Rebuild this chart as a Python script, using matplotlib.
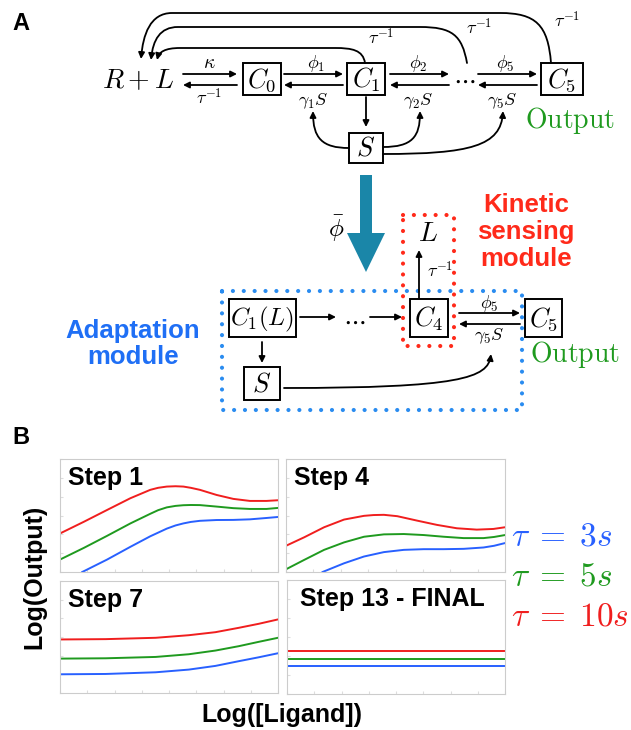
import numpy as np
import matplotlib.pyplot as plt
from matplotlib.patches import Rectangle, FancyArrowPatch, Polygon
from matplotlib.path import Path

plt.rcParams['mathtext.fontset'] = 'cm'
plt.rcParams['font.family'] = ['Liberation Sans', 'DejaVu Sans']

# ---- panel B data: x and y as fractions of each small box ----
step1_x_red = [0, 0.11, 0.216, 0.323, 0.414, 0.45, 0.49, 0.53, 0.566, 0.60, 0.642, 0.718, 0.795, 0.871, 0.947, 1]
step1_red = [0.341, 0.445, 0.549, 0.653, 0.727, 0.745, 0.756, 0.759, 0.756, 0.745, 0.727, 0.682, 0.647, 0.629, 0.629, 0.635]
step1_x_green = [0, 0.11, 0.216, 0.323, 0.414, 0.45, 0.49, 0.53, 0.566, 0.60, 0.642, 0.718, 0.795, 0.871, 0.947, 1]
step1_green = [0.11, 0.214, 0.32, 0.43, 0.515, 0.547, 0.572, 0.585, 0.591, 0.593, 0.592, 0.579, 0.565, 0.558, 0.558, 0.567]
step1_x_blue = [0.102, 0.216, 0.323, 0.414, 0.49, 0.53, 0.566, 0.60, 0.642, 0.718, 0.795, 0.871, 0.947, 1]
step1_blue = [0, 0.11, 0.223, 0.316, 0.384, 0.412, 0.43, 0.443, 0.453, 0.46, 0.461, 0.466, 0.478, 0.487]

step4_x_red = [0, 0.083, 0.174, 0.265, 0.356, 0.40, 0.447, 0.508, 0.598, 0.689, 0.78, 0.871, 0.947, 1]
step4_red = [0.232, 0.307, 0.396, 0.464, 0.497, 0.504, 0.506, 0.494, 0.455, 0.417, 0.387, 0.375, 0.381, 0.396]
step4_x_green = [0, 0.083, 0.174, 0.265, 0.356, 0.447, 0.538, 0.629, 0.72, 0.811, 0.902, 0.95, 1]
step4_green = [0.024, 0.107, 0.196, 0.262, 0.312, 0.333, 0.336, 0.327, 0.312, 0.3, 0.3, 0.31, 0.327]
step4_x_blue = [0.167, 0.265, 0.356, 0.447, 0.538, 0.629, 0.72, 0.811, 0.902, 0.95, 1]
step4_blue = [0, 0.077, 0.137, 0.176, 0.196, 0.202, 0.202, 0.205, 0.217, 0.232, 0.256]

step7_x = [0, 0.21, 0.439, 0.591, 0.713, 0.82, 0.912, 1]
step7_red = [0.478, 0.481, 0.493, 0.516, 0.543, 0.582, 0.618, 0.657]
step7_green = [0.307, 0.31, 0.322, 0.346, 0.379, 0.418, 0.457, 0.493]
step7_blue = [0.167, 0.17, 0.185, 0.209, 0.242, 0.284, 0.319, 0.355]

step13_x = [0, 1]
step13_red = [0.38, 0.38]
step13_green = [0.304, 0.304]
step13_blue = [0.249, 0.249]

step_titles = ['Step 1', 'Step 4', 'Step 7', 'Step 13 - FINAL']
tau_labels = [r'$\tau\;=\;3s$', r'$\tau\;=\;5s$', r'$\tau\;=\;10s$']

RED = '#f01e1e'
GREEN = '#1f9a1f'
BLUE = '#2860ff'

W, H = 631, 730
fig = plt.figure(figsize=(W / 100, H / 100), dpi=100)

# whole-figure axes in pixel units for the diagram
ax = fig.add_axes([0, 0, 1, 1])
ax.set_xlim(0, W)
ax.set_ylim(H, 0)
ax.axis('off')

SMALL = 13


def box(x0, y0, x1, y1, label, fs=19):
    ax.add_patch(Rectangle((x0, y0), x1 - x0, y1 - y0, fill=False, lw=1.4, ec='k'))
    ax.text((x0 + x1) / 2, (y0 + y1) / 2 + 1, label, fontsize=fs, ha='center', va='center')


def arrow(x0, y0, x1, y1):
    ax.annotate('', xy=(x1, y1), xytext=(x0, y0),
                arrowprops=dict(arrowstyle='-|>', lw=1.3, color='k', mutation_scale=9,
                                shrinkA=0, shrinkB=0))


def curve(pts):
    codes = [Path.MOVETO] + [Path.CURVE4] * 3
    if len(pts) > 4:
        codes = [Path.MOVETO, Path.CURVE4, Path.CURVE4, Path.CURVE4, Path.LINETO,
                 Path.CURVE4, Path.CURVE4, Path.CURVE4]
    p = FancyArrowPatch(path=Path(pts, codes), arrowstyle='-|>', lw=1.3, color='k',
                        mutation_scale=9)
    ax.add_patch(p)


def dotted_rect(x0, y0, x1, y1, color):
    ax.plot([x0, x1, x1, x0, x0], [y0, y0, y1, y1, y0], color=color, lw=3,
            ls=(0, (0.01, 2.6)), dash_capstyle='round')


# ---------------- panel A, top scheme ----------------
ax.text(12, 23, 'A', fontsize=17, fontweight='bold', ha='left', va='center')
ax.text(138, 81, r'$R+L$', fontsize=20, ha='center', va='center')
box(243, 63, 281, 95, r'$C_0$')
box(347, 63, 385, 95, r'$C_1$')
box(541, 63, 583, 95, r'$C_5$')
box(349, 133, 383, 163, r'$S$')
ax.text(464, 80, r'$\cdots$', fontsize=18, ha='center', va='center')
ax.text(570, 120, r'$\mathrm{Output}$', fontsize=20, ha='center', va='center', color=GREEN)

# reversible steps
arrow(183, 74, 237, 74)
arrow(237, 85, 183, 85)
arrow(284, 74, 343, 74)
arrow(343, 85, 284, 85)
arrow(390, 74, 449, 74)
arrow(449, 85, 390, 85)
arrow(478, 74, 537, 74)
arrow(537, 85, 478, 85)
ax.text(209, 63, r'$\kappa$', fontsize=SMALL + 1, ha='center', va='center')
ax.text(209, 98, r'$\tau^{-1}$', fontsize=SMALL, ha='center', va='center')
ax.text(316, 64, r'$\phi_1$', fontsize=SMALL, ha='center', va='center')
ax.text(313, 101, r'$\gamma_1 S$', fontsize=SMALL, ha='center', va='center')
ax.text(418, 64, r'$\phi_2$', fontsize=SMALL, ha='center', va='center')
ax.text(418, 101, r'$\gamma_2 S$', fontsize=SMALL, ha='center', va='center')
ax.text(505, 64, r'$\phi_5$', fontsize=SMALL, ha='center', va='center')
ax.text(502, 101, r'$\gamma_5 S$', fontsize=SMALL, ha='center', va='center')

# unbinding arcs back to R+L
curve([(365, 63), (363, 50), (352, 48), (335, 48), (180, 48), (165, 48), (159, 52), (157, 60)])
curve([(467, 63), (462, 35), (452, 27), (420, 27), (178, 27), (160, 27), (153, 40), (151, 60)])
curve([(551, 63), (548, 25), (536, 13), (500, 13), (172, 13), (150, 13), (143, 35), (141, 59)])
ax.text(381, 38, r'$\tau^{-1}$', fontsize=SMALL, ha='center', va='center')
ax.text(479, 28, r'$\tau^{-1}$', fontsize=SMALL, ha='center', va='center')
ax.text(567, 21, r'$\tau^{-1}$', fontsize=SMALL, ha='center', va='center')

# S feedback
arrow(366, 97, 366, 127)
curve([(349, 148), (322, 148), (313, 138), (313, 111)])
curve([(383, 147), (412, 147), (420, 137), (420, 111)])
curve([(383, 154), (470, 154), (501, 146), (503, 111)])

# big teal arrow
ax.add_patch(Polygon([(360, 175), (372, 175), (372, 233), (385, 233), (366, 272),
                      (347, 233), (360, 233)], closed=True, fc='#1a86a8', ec='none'))
ax.text(336, 228, r'$\bar{\phi}$', fontsize=18, ha='center', va='center')

# ---------------- panel A, reduced scheme ----------------
dotted_rect(222, 291, 522, 410, '#2a8cf0')
dotted_rect(403, 215, 454, 346, '#ff2a1a')
box(229, 299, 296, 337, r'$C_1(L)$', fs=18)
box(410, 299, 448, 337, r'$C_4$')
box(525, 299, 562, 337, r'$C_5$')
box(244, 367, 280, 400, r'$S$')
ax.text(354, 321, r'$\cdots$', fontsize=18, ha='center', va='center')
arrow(300, 317, 336, 317)
arrow(370, 317, 402, 317)
arrow(459, 313, 520, 313)
arrow(520, 324, 459, 324)
ax.text(489, 303, r'$\phi_5$', fontsize=SMALL, ha='center', va='center')
ax.text(489, 336, r'$\gamma_5 S$', fontsize=SMALL, ha='center', va='center')
ax.text(575, 354, r'$\mathrm{Output}$', fontsize=20, ha='center', va='center', color=GREEN)
arrow(262, 342, 262, 363)
curve([(284, 388), (460, 388), (488, 378), (491, 354)])
arrow(419, 298, 419, 250)
ax.text(428, 234, r'$L$', fontsize=20, ha='center', va='center')
ax.text(440, 271, r'$\tau^{-1}$', fontsize=SMALL, ha='center', va='center')

ax.text(526, 232, 'Kinetic\nsensing\nmodule', fontsize=18.5, fontweight='bold', color='#ff2a1a',
        ha='center', va='center', linespacing=1.15)
ax.text(133, 344, 'Adaptation\nmodule', fontsize=18.5, fontweight='bold', color='#1f6ff5',
        ha='center', va='center', linespacing=1.15)

# ---------------- panel B ----------------
ax.text(12, 437, 'B', fontsize=17, fontweight='bold', ha='left', va='center')

boxes = [(60, 459, 278, 572), (286, 459, 505, 572), (60, 581, 278, 693), (287, 580, 505, 694)]
title_x = [0.037, 0.037, 0.037, 0.06]
curves = [
    [(step1_x_red, step1_red, RED), (step1_x_green, step1_green, GREEN), (step1_x_blue, step1_blue, BLUE)],
    [(step4_x_red, step4_red, RED), (step4_x_green, step4_green, GREEN), (step4_x_blue, step4_blue, BLUE)],
    [(step7_x, step7_red, RED), (step7_x, step7_green, GREEN), (step7_x, step7_blue, BLUE)],
    [(step13_x, step13_red, RED), (step13_x, step13_green, GREEN), (step13_x, step13_blue, BLUE)],
]
for (x0, y0, x1, y1), title, tx, cset in zip(boxes, step_titles, title_x, curves):
    sub = fig.add_axes([x0 / W, 1 - y1 / H, (x1 - x0) / W, (y1 - y0) / H])
    for xs, ys, c in cset:
        sub.plot(xs, ys, color=c, lw=1.4, solid_joinstyle='round')
    sub.set_xlim(0, 1)
    sub.set_ylim(0, 1)
    sub.set_xticks(np.linspace(0, 1, 9))
    sub.set_yticks(np.linspace(0, 1, 7))
    sub.tick_params(direction='in', length=2, color='#dddddd', labelleft=False, labelbottom=False)
    for s in sub.spines.values():
        s.set_color('#cccccc')
        s.set_linewidth(0.8)
    sub.text(tx, 0.83, title, transform=sub.transAxes,
             fontsize=18, fontweight='bold', ha='left', va='center')

ax.text(34, 577, 'Log(Output)', fontsize=18, fontweight='bold', rotation=90, ha='center', va='center')
ax.text(282, 715, 'Log([Ligand])', fontsize=18, fontweight='bold', ha='center', va='center')
for lab, c, yy in zip(tau_labels, [BLUE, GREEN, RED], [537, 577, 617]):
    ax.text(511, yy, lab, fontsize=24, color=c, ha='left', va='center')

fig.savefig('out.png', dpi=100)
